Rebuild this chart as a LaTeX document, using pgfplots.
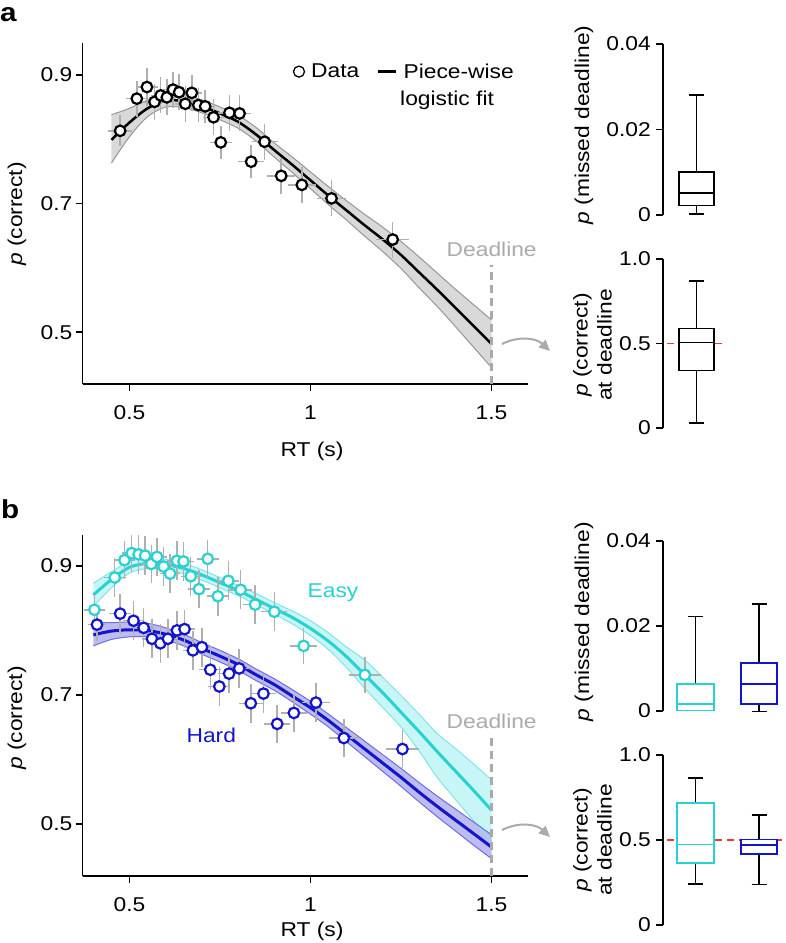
\documentclass[border=0pt]{standalone}
\usepackage{fontspec}
\setmainfont{Liberation Sans}[FakeStretch=1.14]
\usepackage{pgfplots}
\usepackage{pgfplotstable}
\pgfplotsset{compat=1.18}
\usepgfplotslibrary{fillbetween}
\usetikzlibrary{arrows.meta}

\definecolor{cyanc}{RGB}{40,210,208}
\definecolor{bluec}{RGB}{20,20,205}
\definecolor{cyanfill}{RGB}{200,246,246}
\definecolor{cyanedge}{RGB}{130,228,228}
\definecolor{bluefill}{RGB}{188,188,240}
\definecolor{blueedge}{RGB}{110,110,222}
\definecolor{grayfill}{RGB}{217,217,217}
\definecolor{grayedge}{RGB}{150,150,150}
\definecolor{ebar}{RGB}{175,175,175}
\definecolor{dlgray}{RGB}{170,170,170}
\definecolor{redd}{RGB}{232,60,60}

\newcommand{\fs}{\fontsize{20}{24}\selectfont}

% ---------- panel a data ----------
\pgfplotstableread{
x y ex ey
0.474 0.813 0.034 0.024
0.520 0.863 0.030 0.028
0.548 0.881 0.030 0.030
0.569 0.858 0.028 0.028
0.586 0.868 0.028 0.028
0.603 0.865 0.028 0.028
0.620 0.877 0.028 0.028
0.637 0.873 0.028 0.028
0.654 0.855 0.028 0.028
0.672 0.872 0.028 0.028
0.690 0.853 0.028 0.026
0.709 0.851 0.028 0.026
0.732 0.834 0.030 0.028
0.752 0.795 0.030 0.026
0.776 0.841 0.032 0.028
0.804 0.840 0.032 0.028
0.836 0.765 0.036 0.026
0.873 0.796 0.036 0.028
0.919 0.743 0.038 0.028
0.976 0.729 0.038 0.028
1.058 0.708 0.040 0.028
1.227 0.644 0.045 0.028
}\dataA

\pgfplotstableread{
x mid lo hi
0.45 0.799 0.763 0.838
0.50 0.826 0.804 0.848
0.55 0.848 0.835 0.861
0.60 0.860 0.850 0.870
0.65 0.859 0.849 0.869
0.70 0.851 0.841 0.861
0.75 0.840 0.830 0.850
0.80 0.827 0.817 0.837
0.85 0.807 0.797 0.818
0.90 0.783 0.772 0.794
0.95 0.760 0.748 0.772
1.00 0.736 0.723 0.749
1.05 0.712 0.698 0.726
1.10 0.689 0.674 0.704
1.15 0.666 0.649 0.683
1.20 0.644 0.625 0.663
1.25 0.620 0.599 0.641
1.30 0.593 0.569 0.617
1.35 0.566 0.540 0.592
1.40 0.538 0.509 0.567
1.45 0.510 0.477 0.543
1.50 0.482 0.445 0.519
}\fitA

% ---------- panel b data ----------
\pgfplotstableread{
x y ex ey
0.403 0.832 0.030 0.025
0.459 0.882 0.030 0.030
0.486 0.909 0.028 0.030
0.506 0.920 0.028 0.030
0.525 0.918 0.028 0.030
0.543 0.916 0.028 0.030
0.560 0.903 0.028 0.030
0.576 0.914 0.028 0.030
0.594 0.899 0.028 0.030
0.612 0.888 0.028 0.030
0.631 0.908 0.028 0.030
0.649 0.907 0.028 0.030
0.669 0.884 0.028 0.030
0.692 0.864 0.030 0.030
0.716 0.911 0.030 0.030
0.744 0.853 0.030 0.030
0.773 0.877 0.030 0.030
0.807 0.863 0.032 0.030
0.847 0.840 0.034 0.030
0.900 0.829 0.036 0.030
0.981 0.776 0.038 0.028
1.150 0.731 0.045 0.028
}\dataEasy

\pgfplotstableread{
x y ex ey
0.410 0.809 0.025 0.025
0.474 0.826 0.030 0.030
0.511 0.815 0.028 0.030
0.539 0.804 0.028 0.030
0.562 0.787 0.028 0.030
0.585 0.780 0.028 0.030
0.606 0.787 0.028 0.030
0.631 0.800 0.028 0.030
0.652 0.802 0.028 0.030
0.675 0.769 0.028 0.030
0.700 0.774 0.028 0.030
0.723 0.739 0.030 0.030
0.748 0.713 0.030 0.030
0.775 0.733 0.030 0.030
0.803 0.741 0.032 0.030
0.835 0.687 0.034 0.030
0.870 0.702 0.034 0.030
0.908 0.655 0.036 0.030
0.954 0.672 0.036 0.030
1.015 0.688 0.038 0.030
1.092 0.633 0.040 0.030
1.254 0.616 0.045 0.030
}\dataHard

\pgfplotstableread{
x mid lo hi
0.40 0.855 0.838 0.873
0.45 0.879 0.866 0.891
0.50 0.898 0.889 0.907
0.55 0.904 0.896 0.912
0.60 0.902 0.894 0.910
0.65 0.896 0.888 0.904
0.70 0.886 0.878 0.894
0.75 0.874 0.866 0.882
0.80 0.862 0.854 0.870
0.85 0.848 0.840 0.857
0.90 0.834 0.825 0.843
0.95 0.820 0.810 0.830
1.00 0.803 0.792 0.815
1.05 0.783 0.770 0.796
1.10 0.759 0.742 0.774
1.15 0.731 0.710 0.754
1.20 0.703 0.680 0.727
1.25 0.673 0.650 0.699
1.30 0.643 0.613 0.670
1.35 0.612 0.572 0.640
1.40 0.582 0.538 0.617
1.45 0.552 0.505 0.593
1.50 0.521 0.472 0.568
}\fitEasy

\pgfplotstableread{
x mid lo hi
0.40 0.793 0.776 0.812
0.45 0.799 0.786 0.812
0.50 0.801 0.790 0.813
0.55 0.800 0.790 0.811
0.60 0.794 0.785 0.804
0.65 0.785 0.776 0.794
0.70 0.772 0.763 0.781
0.75 0.760 0.751 0.769
0.80 0.747 0.738 0.756
0.85 0.731 0.722 0.740
0.90 0.716 0.707 0.725
0.95 0.698 0.689 0.708
1.00 0.680 0.670 0.690
1.05 0.660 0.650 0.670
1.10 0.638 0.627 0.649
1.15 0.616 0.604 0.628
1.20 0.594 0.581 0.607
1.25 0.572 0.558 0.586
1.30 0.549 0.534 0.564
1.35 0.527 0.511 0.543
1.40 0.506 0.489 0.523
1.45 0.485 0.467 0.503
1.50 0.464 0.446 0.483
}\fitHard

\pgfplotsset{
  mainax/.style={scale only axis, width=445.2pt, height=341pt,
    xmin=0.37, xmax=1.6, axis lines=left,
    axis line style={line width=1.8pt, -},
    tick style={black, line width=1.8pt}, major tick length=7pt, tick align=outside,
    xtick={0.5,1,1.5}, xticklabels={0.5,1,1.5},
    ytick={0.5,0.7,0.9}, yticklabels={0.5,0.7,0.9},
    tick label style={font=\fs},
    xticklabel style={anchor=base, inner sep=0pt, yshift=-28pt},
    yticklabel style={anchor=east, inner sep=0pt, xshift=-3pt}},
  boxax/.style={scale only axis, width=123pt, xmin=0, xmax=123,
    axis x line=none, axis y line=left,
    axis line style={line width=1.8pt, -},
    tick style={black, line width=1.8pt}, major tick length=7pt, tick align=outside,
    tick label style={font=\fs},
    yticklabel style={anchor=east, inner sep=0pt, xshift=-5pt},
    scaled y ticks=false, clip=false},
  ebars/.style={forget plot, only marks, mark=none,
    error bars/.cd, x dir=both, x explicit, y dir=both, y explicit,
    error mark=none, error bar style={color=ebar, line width=1.5pt}},
  bxl/.style={forget plot, line width=1.5pt},
}

\begin{document}
\begin{tikzpicture}

% =================== panel a main ===================
\begin{axis}[mainax, at={(82.5pt,-384.3pt)}, anchor=south west,
  ymin=0.419, ymax=0.949,
  legend columns=2,
  legend style={draw=none, fill=none, at={(axis description cs:0.472,0.917)}, anchor=west,
    inner sep=0pt, nodes={inner sep=0pt, font=\fs},
    /tikz/every odd column/.style={column sep=6pt},
    /tikz/every even column/.style={column sep=17pt}}]
\addplot[forget plot, draw=none, name path=aU, smooth] table[x=x, y=hi] \fitA;
\addplot[forget plot, draw=none, name path=aL, smooth] table[x=x, y=lo] \fitA;
\addplot[forget plot, fill=grayfill, draw=none] fill between[of=aU and aL];
\addplot[forget plot, grayedge, line width=1pt, smooth] table[x=x, y=hi] \fitA;
\addplot[forget plot, grayedge, line width=1pt, smooth] table[x=x, y=lo] \fitA;
\addplot[forget plot, black, line width=2.5pt, smooth] table[x=x, y=mid] \fitA;
\addplot[forget plot, dlgray, line width=2.5pt, dash pattern=on 8pt off 5pt] coordinates {(1.5,0.419) (1.5,0.605)};
\addplot[ebars] table[x=x, y=y, x error=ex, y error=ey] \dataA;
\addplot[forget plot, only marks, mark=*, mark size=5.3pt, mark options={fill=white, draw=black, line width=2.2pt}] table[x=x, y=y] \dataA;
\addlegendimage{legend image code/.code={\draw[black, line width=1.3pt, fill=white] (5.5pt,0pt) circle (5.5pt);}}
\addlegendentry{Data}
\addlegendimage{legend image code/.code={\draw[black, line width=3.3pt] (0pt,0pt) -- (18pt,0pt);}}
\addlegendentry{Piece-wise}
\end{axis}

\node[anchor=base west, font=\fs, inner sep=0pt] at (400pt,-105.5pt) {logistic fit};
\node[anchor=base, font=\fs, text=dlgray, inner sep=0pt] at (491.7pt,-256.7pt) {Deadline};
\node[anchor=base, font=\fs, inner sep=0pt] at (312pt,-456pt) {RT (s)};
\node[rotate=90, font=\fs, inner sep=0pt] at (17pt,-214pt) {\textit{p} (correct)};
\node[anchor=base west, inner sep=0pt, font=\fontsize{26}{28}\selectfont\bfseries] at (0pt,-21pt) {a};
\draw[dlgray, line width=2pt, -{Triangle[length=11pt,width=10pt]}] (502pt,-344pt) to[bend left=35] (550pt,-351pt);

% ---- panel a boxes: p(missed deadline) ----
\begin{axis}[boxax, at={(663pt,-215pt)}, anchor=south west, height=171pt,
  ymin=0, ymax=0.04, ytick={0,0.02,0.04}, yticklabels={0,0.02,0.04}]
\addplot[bxl, black] coordinates {(33.5,0.0101) (33.5,0.0281)};
\addplot[bxl, black] coordinates {(26,0.0281) (41,0.0281)};
\addplot[bxl, black] coordinates {(33.5,0.0022) (33.5,0.0002)};
\addplot[bxl, black] coordinates {(26,0.0002) (41,0.0002)};
\addplot[bxl, black, fill=white] coordinates {(16,0.0022) (51,0.0022) (51,0.0101) (16,0.0101)} -- cycle;
\addplot[bxl, black] coordinates {(16,0.0052) (51,0.0052)};
\end{axis}
\node[rotate=90, font=\fs, inner sep=0pt] at (584pt,-125pt) {\textit{p} (missed deadline)};

% ---- panel a boxes: p(correct) at deadline ----
\begin{axis}[boxax, at={(663pt,-428pt)}, anchor=south west, height=169pt,
  ymin=0, ymax=1, ytick={0,0.5,1}, yticklabels={0,0.5,1.0}]
\addplot[forget plot, redd, line width=1.5pt, dash pattern=on 7pt off 5pt] coordinates {(4,0.5) (61,0.5)};
\addplot[bxl, black] coordinates {(33.5,0.590) (33.5,0.870)};
\addplot[bxl, black] coordinates {(26,0.870) (41,0.870)};
\addplot[bxl, black] coordinates {(33.5,0.339) (33.5,0.031)};
\addplot[bxl, black] coordinates {(26,0.031) (41,0.031)};
\addplot[bxl, black, fill=white] coordinates {(16,0.339) (51,0.339) (51,0.590) (16,0.590)} -- cycle;
\addplot[bxl, black] coordinates {(16,0.507) (51,0.507)};
\end{axis}
\node[rotate=90, font=\fs, inner sep=0pt, align=center] at (592.5pt,-345pt) {\textit{p} (correct)\\at deadline};

% =================== panel b main ===================
\begin{axis}[mainax, at={(82.5pt,-876pt)}, anchor=south west,
  ymin=0.419, ymax=0.948]
\addplot[forget plot, draw=none, name path=eU, smooth] table[x=x, y=hi] \fitEasy;
\addplot[forget plot, draw=none, name path=eL, smooth] table[x=x, y=lo] \fitEasy;
\addplot[forget plot, fill=cyanfill, draw=none] fill between[of=eU and eL];
\addplot[forget plot, cyanedge, line width=1pt, smooth] table[x=x, y=hi] \fitEasy;
\addplot[forget plot, cyanedge, line width=1pt, smooth] table[x=x, y=lo] \fitEasy;
\addplot[forget plot, draw=none, name path=hU, smooth] table[x=x, y=hi] \fitHard;
\addplot[forget plot, draw=none, name path=hL, smooth] table[x=x, y=lo] \fitHard;
\addplot[forget plot, fill=bluefill, draw=none] fill between[of=hU and hL];
\addplot[forget plot, blueedge, line width=1pt, smooth] table[x=x, y=hi] \fitHard;
\addplot[forget plot, blueedge, line width=1pt, smooth] table[x=x, y=lo] \fitHard;
\addplot[forget plot, cyanc, line width=3pt, smooth] table[x=x, y=mid] \fitEasy;
\addplot[forget plot, bluec, line width=3pt, smooth] table[x=x, y=mid] \fitHard;
\addplot[forget plot, dlgray, line width=2.5pt, dash pattern=on 8pt off 5pt] coordinates {(1.5,0.419) (1.5,0.633)};
\addplot[ebars] table[x=x, y=y, x error=ex, y error=ey] \dataEasy;
\addplot[ebars] table[x=x, y=y, x error=ex, y error=ey] \dataHard;
\addplot[forget plot, only marks, mark=*, mark size=5.3pt, mark options={fill=white, draw=cyanc, line width=2.2pt}] table[x=x, y=y] \dataEasy;
\addplot[forget plot, only marks, mark=*, mark size=5.3pt, mark options={fill=white, draw=bluec, line width=2.2pt}] table[x=x, y=y] \dataHard;
\end{axis}

\node[anchor=base, font=\fs, text=cyanc, inner sep=0pt] at (333pt,-597.3pt) {Easy};
\node[anchor=base, font=\fs, text=bluec, inner sep=0pt] at (211.3pt,-742.7pt) {Hard};
\node[anchor=base, font=\fs, text=dlgray, inner sep=0pt] at (491.7pt,-728.3pt) {Deadline};
\node[anchor=base, font=\fs, inner sep=0pt] at (312pt,-936pt) {RT (s)};
\node[rotate=90, font=\fs, inner sep=0pt] at (17pt,-718pt) {\textit{p} (correct)};
\node[anchor=base west, inner sep=0pt, font=\fontsize{26}{28}\selectfont\bfseries] at (1pt,-518pt) {b};
\draw[dlgray, line width=2pt, -{Triangle[length=11pt,width=10pt]}] (502pt,-830pt) to[bend left=35] (550pt,-837pt);

% ---- panel b boxes: p(missed deadline), Easy and Hard ----
\begin{axis}[boxax, at={(663pt,-710.7pt)}, anchor=south west, height=169.7pt,
  ymin=0, ymax=0.04, ytick={0,0.02,0.04}, yticklabels={0,0.02,0.04}]
\addplot[bxl, black] coordinates {(32.3,0.0063) (32.3,0.0222)};
\addplot[bxl, black] coordinates {(24.8,0.0222) (39.8,0.0222)};
\addplot[bxl, cyanc, fill=white] coordinates {(13.8,0.0) (50.8,0.0) (50.8,0.0063) (13.8,0.0063)} -- cycle;
\addplot[bxl, cyanc] coordinates {(13.8,0.0016) (50.8,0.0016)};
\addplot[bxl, black] coordinates {(96,0.0112) (96,0.0251)};
\addplot[bxl, black] coordinates {(88.5,0.0251) (103.5,0.0251)};
\addplot[bxl, black] coordinates {(96,0.0016) (96,-0.0002)};
\addplot[bxl, black] coordinates {(88.5,-0.0002) (103.5,-0.0002)};
\addplot[bxl, bluec, fill=white] coordinates {(78,0.0016) (114,0.0016) (114,0.0112) (78,0.0112)} -- cycle;
\addplot[bxl, bluec] coordinates {(78,0.0063) (114,0.0063)};
\end{axis}
\node[rotate=90, font=\fs, inner sep=0pt] at (584pt,-621.7pt) {\textit{p} (missed deadline)};

% ---- panel b boxes: p(correct) at deadline ----
\begin{axis}[boxax, at={(663pt,-925pt)}, anchor=south west, height=170pt,
  ymin=0, ymax=1, ytick={0,0.5,1}, yticklabels={0,0.5,1.0}]
\addplot[forget plot, redd, line width=1.5pt, dash pattern=on 7pt off 5pt] coordinates {(4,0.5) (123,0.5)};
\addplot[bxl, black] coordinates {(32.3,0.719) (32.3,0.866)};
\addplot[bxl, black] coordinates {(24.8,0.866) (39.8,0.866)};
\addplot[bxl, black] coordinates {(32.3,0.366) (32.3,0.240)};
\addplot[bxl, black] coordinates {(24.8,0.240) (39.8,0.240)};
\addplot[bxl, cyanc, fill=white] coordinates {(13.8,0.366) (50.8,0.366) (50.8,0.719) (13.8,0.719)} -- cycle;
\addplot[bxl, cyanc] coordinates {(13.8,0.475) (50.8,0.475)};
\addplot[bxl, black] coordinates {(96,0.504) (96,0.647)};
\addplot[bxl, black] coordinates {(88.5,0.647) (103.5,0.647)};
\addplot[bxl, black] coordinates {(96,0.419) (96,0.239)};
\addplot[bxl, black] coordinates {(88.5,0.239) (103.5,0.239)};
\addplot[bxl, bluec, fill=white] coordinates {(78,0.419) (114,0.419) (114,0.504) (78,0.504)} -- cycle;
\addplot[bxl, bluec] coordinates {(78,0.471) (114,0.471)};
\end{axis}
\node[rotate=90, font=\fs, inner sep=0pt, align=center] at (592.5pt,-840pt) {\textit{p} (correct)\\at deadline};

\pgfresetboundingbox
\path[use as bounding box] (0pt,0pt) rectangle (786pt,-943pt);
\end{tikzpicture}
\end{document}
